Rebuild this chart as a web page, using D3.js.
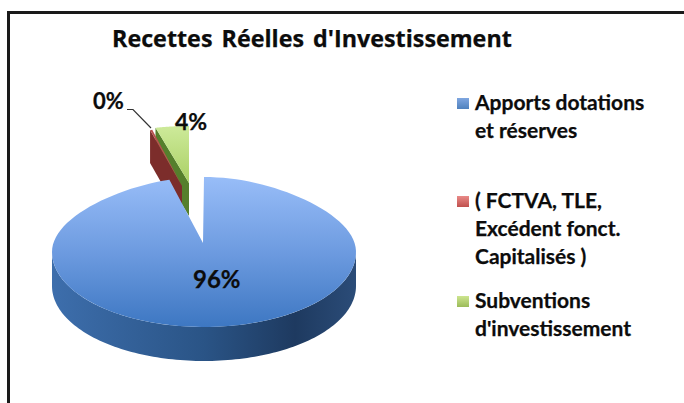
<!DOCTYPE html>
<html><head><meta charset="utf-8">
<script src="https://cdn.jsdelivr.net/npm/d3@7/dist/d3.min.js"></script>
<style>html,body{margin:0;padding:0;background:#fff}svg{display:block}text{font-family:Lato,"Open Sans",sans-serif;font-weight:700;fill:#0c0c0c;stroke:#0c0c0c;stroke-width:.25px}</style>
</head><body><div id="c"></div>
<script>
const categories = ["Apports dotations et réserves", "( FCTVA, TLE, Excédent fonct. Capitalisés )", "Subventions d'investissement"];
const values = [96, 0.3, 4];
const percentLabels = ["96%", "0%", "4%"];
const legendLines = [["Apports dotations", "et réserves"], ["( FCTVA, TLE,", "Excédent fonct.", "Capitalisés )"], ["Subventions", "d'investissement"]];
const titleText = "Recettes Réelles d'Investissement";

const W = 684, H = 403;
const svg = d3.select("#c").append("svg").attr("width", W).attr("height", H);
const defs = svg.append("defs");
function grad(id, x1, y1, x2, y2, stops) {
  const g = defs.append("linearGradient").attr("id", id).attr("gradientUnits", "userSpaceOnUse")
    .attr("x1", x1).attr("y1", y1).attr("x2", x2).attr("y2", y2);
  stops.forEach(s => g.append("stop").attr("offset", s[0]).attr("stop-color", s[1]));
  return `url(#${id})`;
}
const fTop = grad("t", 0, 177, 0, 327, [[0, "#98bdf8"], [.5, "#6d9be0"], [1, "#3d77c2"]]);
const fSide = grad("s", 52, 0, 356, 0, [[0, "#3d6eac"], [.5, "#2a5486"], [.8, "#1e3a60"], [1, "#2b4c78"]]);
const fGreen = grad("g", 0, 126, 0, 184, [[0, "#cdea9a"], [1, "#a9cf63"]]);

// frame
svg.append("path").attr("d", `M8.5 ${H}V12.5H${W}`).attr("fill", "none").attr("stroke", "#1a1a1a").attr("stroke-width", 3);

svg.append("text").attr("x", 112).attr("y", 47).attr("font-size", 23.3)
  .style("font-family", "'Open Sans',sans-serif").attr("word-spacing", 3).text(titleText);

// Pie layout in data order, clockwise from 12 o'clock
const arcs = d3.pie().sort(null).value(d => d)(values);
const depth = 33;
// screen geometry of each slice: apex, projected ellipse, perspective narrowing of the far half
const geom = [
  { ax: 203, ay: 243, cx: 204, cy: 252, rx: 152, ry: 75, k: 0.155 },
  { ax: 182, ay: 186, cx: 182, cy: 186, rx: 120, ry: 58, k: 0 },
  { ax: 189, ay: 183, cx: 189, cy: 183, rx: 135, ry: 57, k: 0 }
];
const pt = (g, a) => {
  const c = Math.max(Math.cos(a), 0);
  return [g.cx + g.rx * Math.sin(a) * (1 - g.k * c * c), g.cy - g.ry * Math.cos(a)];
};
const rim = (g, a0, a1) => d3.range(0, 121).map(i => pt(g, a0 + (a1 - a0) * i / 120));
const line = d3.line();

// exploded small slices: walls first, then top faces
const wall = (g, a) => { const p = pt(g, a); return line([p, [g.ax, g.ay], [g.ax, g.ay + depth], [p[0], p[1] + depth]]) + "Z"; };
const face = (g, d) => line([[g.ax, g.ay], ...rim(g, d.startAngle, d.endAngle)]) + "Z";

const green = arcs[2], red = arcs[1];
svg.append("path").attr("d", wall(geom[2], green.startAngle)).attr("fill", "#557f2c");
svg.append("path").attr("d", face(geom[2], green)).attr("fill", fGreen);
svg.append("path").attr("d", wall(geom[1], red.startAngle)).attr("fill", "#7c2d2b");
svg.append("path").attr("d", face(geom[1], red)).attr("fill", "#b8514f");

// main slice: side wall along the lower rim, then the top face
const m = geom[0], blue = arcs[0];
const lower = rim(m, Math.PI / 2, 3 * Math.PI / 2);
svg.append("path").attr("d", line([...lower, ...lower.slice().reverse().map(p => [p[0], p[1] + depth + 1])]) + "Z").attr("fill", fSide);
svg.append("path").attr("d", face(m, blue)).attr("fill", fTop);

// labels
const labelPos = [[193, 288, 24], [93, 109, 22], [175, 130, 23]];
svg.selectAll("text.pct").data(percentLabels).join("text").attr("class", "pct")
  .attr("x", (d, i) => labelPos[i][0]).attr("y", (d, i) => labelPos[i][1]).attr("font-size", (d, i) => labelPos[i][2]).text(d => d);
svg.append("path").attr("d", "M127 109.5H133L151 128").attr("fill", "none").attr("stroke", "#333").attr("stroke-width", 1.2);

// legend
const swatch = [["#7fa6e0", "#4f81bd"], ["#e98a88", "#c0504d"], ["#cde58f", "#9bbb59"]];
const legendY = [110, 208, 308];
legendLines.forEach((lines, i) => {
  const f = grad("l" + i, 0, legendY[i] - 12, 0, legendY[i] - 1, [[0, swatch[i][0]], [1, swatch[i][1]]]);
  svg.append("rect").attr("x", 457).attr("y", legendY[i] - 12).attr("width", 12).attr("height", 11).attr("fill", f);
  lines.forEach((t, j) => svg.append("text").attr("x", 475).attr("y", legendY[i] + j * 28).attr("font-size", 21).text(t));
});
</script></body></html>
